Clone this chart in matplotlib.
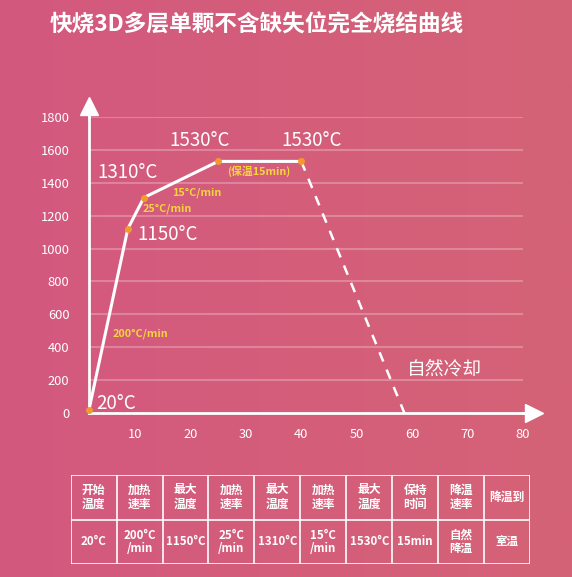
import numpy as np
import matplotlib.pyplot as plt
from matplotlib.patches import Rectangle

plt.rcParams['font.family'] = ['Noto Sans CJK SC', 'DejaVu Sans']

# 烧结曲线的数据
t_solid = [1.7, 8.7, 11.6, 25, 40]
temp_solid = [20, 1120, 1310, 1530, 1530]
t_cool = [40, 58.6]
temp_cool = [1530, 0]

xticks = [10, 20, 30, 40, 50, 60, 70, 80]
yticks = [0, 200, 400, 600, 800, 1000, 1200, 1400, 1600, 1800]

# 图上的温度标注
big_labels = ['1530°C', '1530°C', '1310°C', '1150°C', '20°C', '自然冷却']
big_pos = [(21.7, 1660), (41.9, 1660), (8.7, 1460), (15.8, 1083), (6.6, 55), (65.9, 268)]
rate_labels = ['15°C/min', '25°C/min', '(保温15min)', '200°C/min']
rate_pos = [(21.2, 1338), (15.8, 1241), (32.3, 1472), (10.9, 480)]

# 表格
header = ['开始\n温度', '加热\n速率', '最大\n温度', '加热\n速率', '最大\n温度',
          '加热\n速率', '最大\n温度', '保持\n时间', '降温\n速率', '降温到']
values = ['20°C', '200°C\n/min', '1150°C', '25°C\n/min', '1310°C',
          '15°C\n/min', '1530°C', '15min', '自然\n降温', '室温']

W, H = 572, 577
fig = plt.figure(figsize=(W/100, H/100), dpi=100)

# 背景渐变
bg = fig.add_axes([0, 0, 1, 1], zorder=-10)
left_c = np.array([211, 88, 127]) / 255
right_c = np.array([213, 99, 118]) / 255
g = np.linspace(0, 1, 256)
grad = left_c[None, :] * (1 - g[:, None]) + right_c[None, :] * g[:, None]
bg.imshow(grad[None, :, :], aspect='auto', extent=[0, 1, 0, 1])
bg.set_axis_off()

fig.text(257/W, 1 - 25/H, '快烧3D多层单颗不含缺失位完全烧结曲线', color='white',
         fontsize=16.3, fontweight='bold', ha='center', va='center')

ax = fig.add_axes([89/W, 1 - 413/H, (523-89)/W, (413-117)/H])
ax.patch.set_alpha(0)
ax.set_xlim(1.7, 80)
ax.set_ylim(0, 1800)

for y in yticks[1:]:
    ax.axhline(y, color='white', alpha=0.25, lw=1.5, zorder=1)

for s in ['top', 'right']:
    ax.spines[s].set_visible(False)
for s in ['left', 'bottom']:
    ax.spines[s].set_color('white')
    ax.spines[s].set_linewidth(2)
    ax.spines[s].set_zorder(3)

# 箭头
ax.plot([80, 81.5], [0, 0], color='white', lw=2, clip_on=False, zorder=3)
ax.plot(82, 0, marker='>', color='white', ms=13, clip_on=False, zorder=3)
ax.plot([1.7, 1.7], [1800, 1830], color='white', lw=2, clip_on=False, zorder=3)
ax.plot(1.7, 1865, marker='^', color='white', ms=13, clip_on=False, zorder=3)

ax.set_xticks(xticks)
ax.set_yticks(yticks)
ax.tick_params(length=0, colors='white', labelsize=9.3)
ax.tick_params(axis='y', pad=14)
ax.tick_params(axis='x', pad=11)

ax.plot(t_solid, temp_solid, color='white', lw=2.2, zorder=4, solid_capstyle='round')
ax.plot(t_cool, temp_cool, color='white', lw=1.8, ls=(0, (4, 3.5)), zorder=4, clip_on=False)
ax.plot(t_solid, temp_solid, 'o', color='#F39A2E', ms=4, zorder=5, clip_on=False)

for s, (x, y) in zip(big_labels, big_pos):
    ax.text(x, y, s, color='white', fontsize=13.5, ha='center', va='center', zorder=6)
for s, (x, y) in zip(rate_labels, rate_pos):
    ax.text(x, y, s, color='#F5D43C', fontsize=7.8, fontweight='bold',
            ha='center', va='center', zorder=6)

# 表格
tx0, tx1 = 70.7, 530
ty0, ty1, ty2 = 475, 521, 564
tab = fig.add_axes([tx0/W, 1 - ty2/H, (tx1-tx0)/W, (ty2-ty0)/H])
tab.set_xlim(0, len(header))
tab.set_ylim(0, 2)
tab.set_axis_off()
tab.add_patch(Rectangle((0, 0), len(header), 2, fill=False, ec='white', lw=1.2))
tab.axhline(1, color='white', lw=1.2)
for i in range(1, len(header)):
    tab.axvline(i, color='white', lw=1.2)
for i, (h, v) in enumerate(zip(header, values)):
    tab.text(i + 0.5, 1.5, h, color='white', fontsize=8.5, fontweight='bold',
             ha='center', va='center', linespacing=1.15)
    tab.text(i + 0.5, 0.5, v, color='white', fontsize=8.3, fontweight='bold',
             ha='center', va='center', linespacing=1.0)

fig.savefig('out.png', dpi=100)
